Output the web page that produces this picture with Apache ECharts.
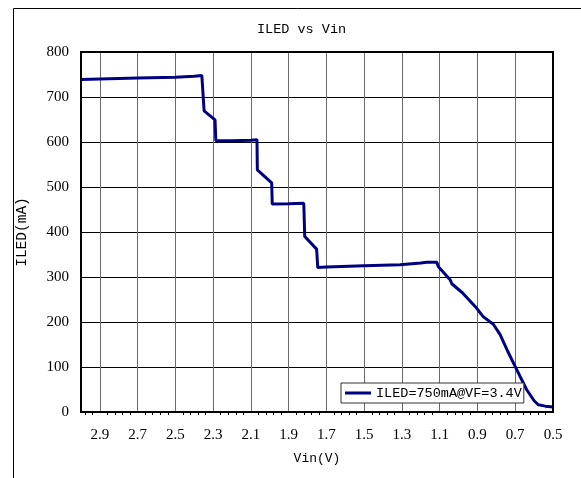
<!DOCTYPE html>
<html>
<head>
<meta charset="utf-8">
<script src="https://cdn.jsdelivr.net/npm/echarts@6/dist/echarts.min.js"></script>
<style>
html,body{margin:0;padding:0;background:#fff;}
#chart{width:581px;height:478px;}
</style>
</head>
<body>
<div id="chart"></div>
<script>
// Data
const vin  = [3.00, 2.90, 2.70, 2.50, 2.40, 2.36, 2.350, 2.348, 2.290, 2.286, 2.20, 2.10, 2.068, 2.066, 1.990, 1.987, 1.90, 1.820, 1.815, 1.752, 1.746, 1.70, 1.50, 1.31, 1.20, 1.169, 1.116, 1.107, 1.045, 1.036, 0.98, 0.905, 0.87, 0.816, 0.78, 0.74, 0.70, 0.64, 0.60, 0.578, 0.54, 0.50];
const iled = [739, 740, 742, 744, 746, 748, 748, 669, 649, 603, 603, 604, 605, 538, 509, 462, 463, 464, 390, 362, 321, 322, 325, 327, 331, 333, 333, 323, 294, 285, 265, 231, 212, 195, 172, 135, 101, 50, 25, 16, 13, 11];
const seriesName = 'ILED=750mA@VF=3.4V';
const titleText = 'ILED vs Vin';
const xName = 'Vin(V)';
const yName = 'ILED(mA)';

const chart = echarts.init(document.getElementById('chart'), null, {renderer: 'canvas'});
const serif = '"Liberation Serif", "Times New Roman", serif';
const mono = '"Liberation Mono", monospace';

const option = {
  animation: false,
  backgroundColor: '#fff',
  title: {
    text: titleText,
    left: 257, top: 22,
    padding: 0,
    textStyle: {fontFamily: mono, fontSize: 13.5, fontWeight: 'normal', color: '#000'}
  },
  graphic: [{
    type: 'rect', silent: true, z: 0,
    shape: {x: 13.5, y: 8.5, width: 800, height: 800},
    style: {fill: null, stroke: '#000', lineWidth: 1}
  }],
  grid: {
    left: 81, top: 52, right: 28, bottom: 66,
    show: true, borderColor: '#000', borderWidth: 2, backgroundColor: 'transparent', z: 5
  },
  legend: {
    data: [seriesName],
    left: 341, top: 383,
    orient: 'horizontal',
    icon: 'rect',
    backgroundColor: '#fff',
    borderColor: '#333', borderWidth: 1, borderRadius: 0,
    padding: [3, 2, 3, 4],
    itemWidth: 26, itemHeight: 3, itemGap: 4,
    textStyle: {fontFamily: mono, fontSize: 13.5, color: '#000', padding: [0, 0, 0, 0]}
  },
  xAxis: {
    type: 'value',
    inverse: true,
    min: 0.5, max: 3.0, interval: 0.2,
    name: xName, nameLocation: 'middle', nameGap: 40,
    nameTextStyle: {fontFamily: mono, fontSize: 13, color: '#000'},
    axisLine: {show: true, lineStyle: {color: '#000', width: 2}},
    axisTick: {show: false},
    minorTick: {show: true, splitNumber: 5, length: 3, lineStyle: {color: '#000', width: 1}},
    axisLabel: {
      inside: false, margin: 16,
      fontFamily: serif, fontSize: 15, color: '#000',
      showMaxLabel: false,
      formatter: v => (Math.abs(v - 3.0) < 1e-6 ? '' : v.toFixed(1))
    },
    splitLine: {show: true, lineStyle: {color: '#6a6a6a', width: 1}}
  },
  yAxis: {
    type: 'value',
    min: 0, max: 800, interval: 100,
    name: yName, nameLocation: 'middle', nameGap: 51, nameRotate: 90,
    nameTextStyle: {fontFamily: mono, fontSize: 14.5, color: '#000'},
    axisLine: {show: true, lineStyle: {color: '#000', width: 2}},
    axisTick: {show: false},
    axisLabel: {margin: 12, fontFamily: serif, fontSize: 15, color: '#000'},
    splitLine: {show: true, lineStyle: {color: '#000', width: 1}}
  },
  series: [{
    name: seriesName,
    type: 'line',
    symbol: 'none',
    data: vin.map((x, i) => [x, iled[i]]),
    lineStyle: {color: '#000080', width: 3},
    itemStyle: {color: '#000080'},
    z: 3
  }]
};
chart.setOption(option);
</script>
</body>
</html>
